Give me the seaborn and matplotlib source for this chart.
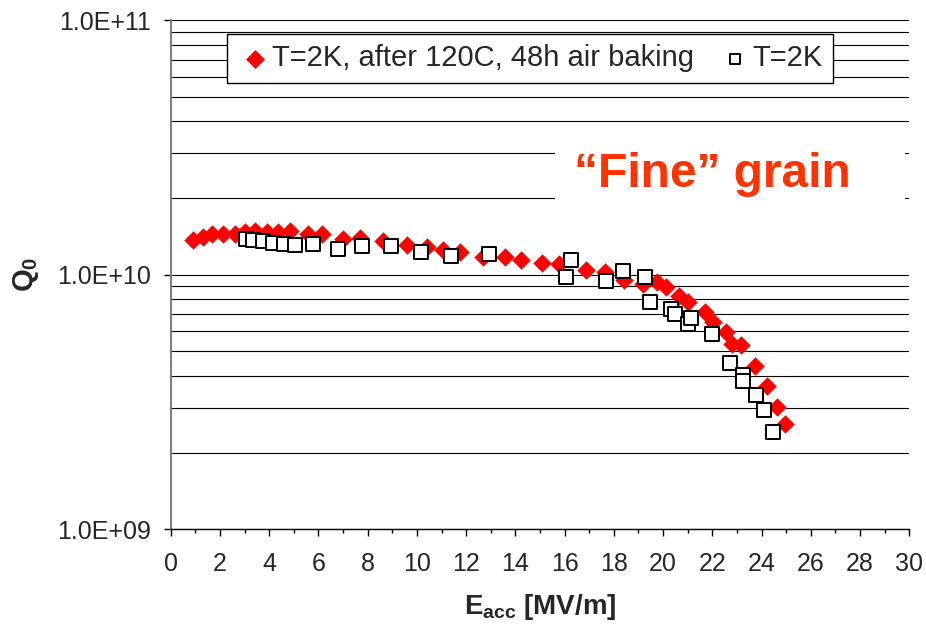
import numpy as np
import matplotlib.pyplot as plt
import matplotlib.ticker as mticker
import matplotlib.patches as mpatches
import pandas as pd
import seaborn as sns

# T=2K, after 120C, 48h air baking (red diamonds)
e_baked = [0.92, 1.32, 1.67, 2.14, 2.61, 3.02, 3.42, 3.90, 4.37, 4.85, 5.59, 6.13,
           7.01, 7.69, 8.64, 9.59, 10.40, 11.07, 11.75, 12.70, 13.58, 14.22, 15.07,
           15.78, 16.87, 17.64, 18.41, 19.20, 19.76, 20.12, 20.66, 21.00, 21.70,
           22.04, 22.55, 22.79, 23.15, 23.73, 24.21, 24.61, 24.95]
q_baked = [1.373e10, 1.405e10, 1.449e10, 1.449e10, 1.449e10, 1.470e10, 1.483e10,
           1.470e10, 1.470e10, 1.483e10, 1.449e10, 1.449e10, 1.385e10, 1.397e10,
           1.355e10, 1.303e10, 1.283e10, 1.246e10, 1.227e10, 1.172e10, 1.169e10,
           1.145e10, 1.115e10, 1.105e10, 1.040e10, 1.024e10, 9.56e9, 9.22e9, 9.35e9,
           8.94e9, 8.22e9, 7.80e9, 7.13e9, 6.51e9, 5.95e9, 5.36e9, 5.28e9, 4.36e9,
           3.67e9, 3.02e9, 2.60e9]

# T=2K (open squares)
e_ref = [3.05, 3.33, 3.76, 4.17, 4.60, 5.05, 5.79, 6.81, 7.78, 8.95, 10.15, 11.37,
         12.93, 16.04, 16.26, 17.68, 18.36, 19.26, 19.47, 20.32, 20.48, 21.00,
         21.12, 22.00, 22.72, 23.26, 23.26, 23.78, 24.10, 24.45]
q_ref = [1.385e10, 1.364e10, 1.355e10, 1.331e10, 1.324e10, 1.303e10, 1.324e10,
         1.265e10, 1.292e10, 1.292e10, 1.227e10, 1.183e10, 1.201e10, 9.79e9,
         1.145e10, 9.44e9, 1.033e10, 9.79e9, 7.80e9, 7.35e9, 7.03e9, 6.42e9,
         6.78e9, 5.87e9, 4.50e9, 4.02e9, 3.84e9, 3.36e9, 2.93e9, 2.42e9]

label_baked = 'T=2K, after 120C, 48h air baking'
label_ref = 'T=2K'

baked = pd.DataFrame({'E': e_baked, 'Q': q_baked})
ref = pd.DataFrame({'E': e_ref, 'Q': q_ref})

sns.set_style('ticks')
plt.rcParams['font.family'] = ['Liberation Sans', 'DejaVu Sans']
plt.rcParams['mathtext.fontset'] = 'custom'
plt.rcParams['mathtext.rm'] = 'Liberation Sans'
plt.rcParams['mathtext.bf'] = 'Liberation Sans:bold'
plt.rcParams['mathtext.default'] = 'bf'

fig, ax = plt.subplots(figsize=(9.26, 6.29), dpi=100)
fig.subplots_adjust(left=0.1843, right=0.982, bottom=0.1585, top=0.968)

sns.scatterplot(data=baked, x='E', y='Q', ax=ax, marker='D', color='#ff0000',
                s=88, linewidth=0, label=label_baked, zorder=3)
sns.scatterplot(data=ref, x='E', y='Q', ax=ax, marker='s', color='white',
                edgecolor='black', s=90, linewidth=1.4, label=label_ref, zorder=4)

ax.set_yscale('log')
ax.set_ylim(1e9, 1e11)
ax.set_xlim(0, 30)
ax.xaxis.set_major_locator(mticker.MultipleLocator(2))
ax.xaxis.set_minor_locator(mticker.MultipleLocator(1))
ax.yaxis.set_major_locator(mticker.LogLocator(base=10))
ax.yaxis.set_minor_locator(mticker.LogLocator(base=10, subs=np.arange(2, 10)))
ax.yaxis.set_minor_formatter(mticker.NullFormatter())
ax.yaxis.set_major_formatter(mticker.FuncFormatter(lambda v, p: f'{v:.1E}'))

ax.grid(True, which='both', axis='y', color='black', linewidth=0.8)
ax.grid(False, axis='x')
ax.set_axisbelow(True)

for side in ['top', 'right']:
    ax.spines[side].set_visible(False)
ax.spines['left'].set_color('#808080')
ax.spines['left'].set_linewidth(1.5)
ax.spines['bottom'].set_color('black')
ax.spines['bottom'].set_linewidth(1.0)

ax.tick_params(axis='both', which='major', labelsize=18, length=5, width=1,
               color='black', direction='out')
ax.tick_params(axis='y', which='major', pad=9)
ax.tick_params(axis='x', which='major', pad=11)
ax.tick_params(axis='x', which='minor', length=3, width=1, color='black')
ax.tick_params(axis='y', which='minor', length=0)

ax.set_xlabel(r'E$_{acc}$ [MV/m]', fontsize=20, fontweight='bold', labelpad=12)
ax.set_ylabel(r'$Q_0$', fontsize=21, fontweight='bold', labelpad=12)

# white patch behind the annotation, hiding the gridlines there
ax.add_patch(mpatches.Rectangle((0.52, 0.63), 0.474, 0.13, transform=ax.transAxes,
                                facecolor='white', edgecolor='none', zorder=2))
ax.text(0.733, 0.696, '\u201cFine\u201d grain', transform=ax.transAxes,
        ha='center', va='center', fontsize=34.5, fontweight='bold', color='#ff3300',
        zorder=5)

leg = ax.legend(loc='upper left', bbox_to_anchor=(0.076, 0.9725), borderaxespad=0,
                ncol=2, fontsize=21, frameon=True, fancybox=False, framealpha=1,
                edgecolor='black', handletextpad=0.0, columnspacing=0.8,
                borderpad=0.35, handlelength=1.2)
leg.get_frame().set_linewidth(1.0)
for h, s in zip(leg.legend_handles, [94, 60]):
    h.set_sizes([s])

fig.savefig('out.png', dpi=100)
